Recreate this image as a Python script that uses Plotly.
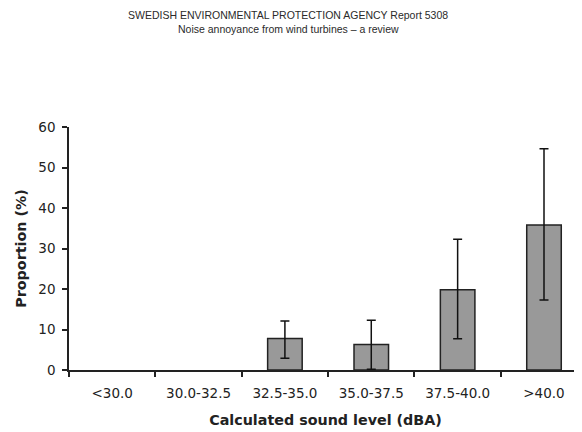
import plotly.graph_objects as go

categories = ["<30.0", "30.0-32.5", "32.5-35.0", "35.0-37.5", "37.5-40.0", ">40.0"]
proportion = [0, 0, 7.8, 6.3, 19.8, 35.8]
ci_upper = [0, 0, 12.1, 12.3, 32.3, 54.6]
ci_lower = [0, 0, 2.9, 0.2, 7.7, 17.3]

y_ticks = [0, 10, 20, 30, 40, 50, 60]
header_lines = ["SWEDISH ENVIRONMENTAL PROTECTION AGENCY Report 5308",
                "Noise annoyance from wind turbines \u2013 a review"]

shown = [v > 0 for v in proportion]
bar_y = [v if s else None for v, s in zip(proportion, shown)]
err_plus = [u - v if s else None for u, v, s in zip(ci_upper, proportion, shown)]
err_minus = [v - l if s else None for v, l, s in zip(proportion, ci_lower, shown)]

# page body has an 8px margin: figure occupies x 8..582, y 8..432
W, H = 574, 424
L, R, T, B = 61, 0, 119, 62

fig = go.Figure()
fig.add_trace(go.Bar(
    x=categories,
    y=bar_y,
    width=0.40,
    marker=dict(color="#999999", line=dict(color="#222222", width=1.5)),
    error_y=dict(type="data", symmetric=False,
                 array=err_plus, arrayminus=err_minus,
                 color="#111111", thickness=1.5, width=4.5),
    hoverinfo="skip",
))

axis_font = "DejaVu Sans, Verdana, sans-serif"
head_font = "Arial, Liberation Sans, sans-serif"
plot_w = W - L - R
plot_h = H - T - B

anns = []
for text, ypx in zip(header_lines, [15, 29]):
    anns.append(dict(
        text=text, xref="paper", yref="paper",
        x=(288 - 8 - L) / plot_w, y=(432 - B - ypx) / plot_h,
        xanchor="center", yanchor="middle", showarrow=False,
        font=dict(family=head_font, size=10.5, color="#2a2a2a"),
    ))

fig.update_layout(
    width=W, height=H,
    margin=dict(l=L, r=R, t=T, b=B),
    paper_bgcolor="white", plot_bgcolor="white",
    showlegend=False,
    font=dict(family=axis_font, color="#222222", size=13),
    annotations=anns,
)

fig.update_xaxes(
    type="category",
    range=[-0.5, 5.44],
    tickson="boundaries",
    ticks="outside", ticklen=5, tickwidth=1.5, tickcolor="#222222",
    ticklabelstandoff=10,
    showline=True, linecolor="#222222", linewidth=1.5,
    showgrid=False, zeroline=False,
    tickfont=dict(family=axis_font, size=13.5, color="#222222"),
    title=dict(text="<b>Calculated sound level (dBA)</b>",
               font=dict(family=axis_font, size=14.3, color="#222222"), standoff=15),
    automargin=False,
)
fig.update_yaxes(
    range=[0, 60],
    tickvals=y_ticks,
    ticks="outside", ticklen=5, tickwidth=1.5, tickcolor="#222222",
    ticklabelstandoff=4,
    showline=True, linecolor="#222222", linewidth=1.5,
    showgrid=False, zeroline=False,
    tickfont=dict(family=axis_font, size=13.5, color="#222222"),
    title=dict(text="<b>Proportion (%)</b>",
               font=dict(family=axis_font, size=14.3, color="#222222"), standoff=8),
    automargin=False,
)

fig.write_html("out.html")
